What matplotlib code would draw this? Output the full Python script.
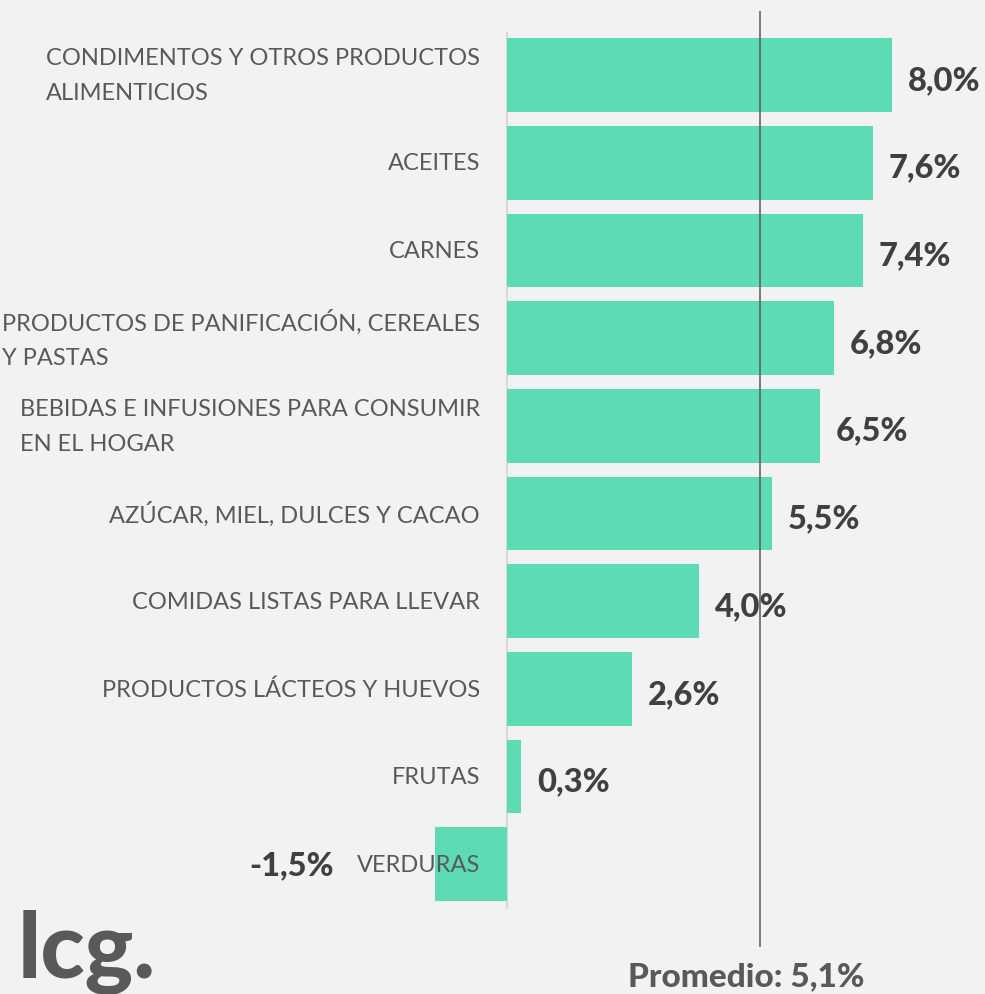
import matplotlib.pyplot as plt

# datos del grafico (variacion % por rubro)
rubros = [
    "CONDIMENTOS Y OTROS PRODUCTOS\nALIMENTICIOS",
    "ACEITES",
    "CARNES",
    "PRODUCTOS DE PANIFICACIÓN, CEREALES\nY PASTAS",
    "BEBIDAS E INFUSIONES PARA CONSUMIR\nEN EL HOGAR",
    "AZÚCAR, MIEL, DULCES Y CACAO",
    "COMIDAS LISTAS PARA LLEVAR",
    "PRODUCTOS LÁCTEOS Y HUEVOS",
    "FRUTAS",
    "VERDURAS",
]
variacion = [8.0, 7.6, 7.4, 6.8, 6.5, 5.5, 4.0, 2.6, 0.3, -1.5]
etiquetas = ["8,0%", "7,6%", "7,4%", "6,8%", "6,5%", "5,5%", "4,0%", "2,6%", "0,3%", "-1,5%"]
promedio_texto = "Promedio: 5,1%"
promedio_linea = 5.27  # posicion de la linea tal como aparece en la imagen

fondo = "#f2f2f2"
verde = "#5cdbb4"
gris_texto = "#595959"
gris_valor = "#404040"

plt.rcParams['font.family'] = ['Lato', 'DejaVu Sans']

fig = plt.figure(figsize=(9.85, 9.95), dpi=100, facecolor=fondo)
ax = fig.add_axes([0, 0, 1, 1])
ax.set_facecolor(fondo)

n = len(variacion)
pos = list(range(n))
ax.barh(pos, variacion, height=0.84, color=verde, zorder=2)

# escala: 0 en x=507px, ~48.1 px por punto
ax.set_xlim(-507 / 48.1, (985 - 507) / 48.1)
ax.set_ylim((995 - 76) / 87.7, -76 / 87.7)
ax.axis('off')

# eje en cero
ax.vlines(0, -0.49, n - 0.49, color="#d9d9d9", lw=1.5, zorder=1)

# linea de promedio
ax.vlines(promedio_linea, -0.73, 9.94, color=gris_texto, lw=1.1, zorder=3)

for i, (r, v, e) in enumerate(zip(rubros, variacion, etiquetas)):
    ax.text(-0.56, i, r, ha='right', va='center', multialignment='left',
            fontsize=17, color=gris_texto, linespacing=1.8, zorder=4)
    if v >= 0:
        ax.text(v + 0.33, i + 0.05, e, ha='left', va='center', fontsize=23.5,
                fontweight='black', color=gris_valor, zorder=4)
    else:
        ax.text(v - 2.1, i, e, ha='right', va='center', fontsize=23.5,
                fontweight='black', color=gris_valor, zorder=4)

fig.text(746 / 985, 1 - 977 / 995, promedio_texto, ha='center', va='center',
         fontsize=24, fontweight='black', color=gris_texto)
fig.text(18 / 985, 1 - 953 / 995, "lcg.", ha='left', va='center',
         fontsize=66, fontweight='black', color=gris_texto)

fig.savefig("out.png", dpi=100, facecolor=fondo)
